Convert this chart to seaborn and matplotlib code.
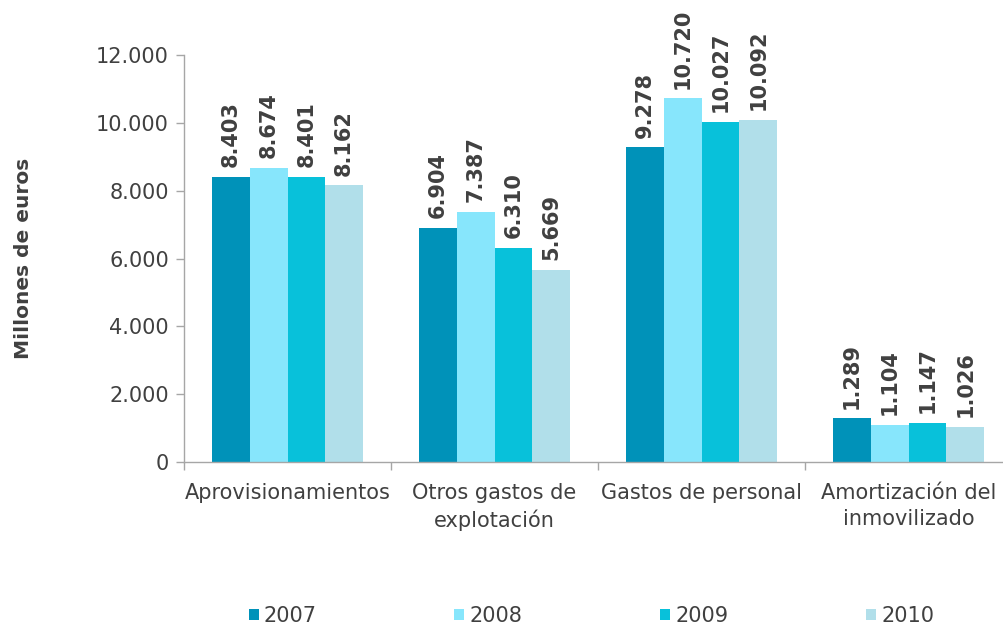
import matplotlib
matplotlib.use("Agg")
import matplotlib.pyplot as plt
import seaborn as sns
import pandas as pd
from matplotlib.ticker import FuncFormatter, FixedLocator

categories = ["Aprovisionamientos", "Otros gastos de\nexplotación",
              "Gastos de personal", "Amortización del\ninmovilizado"]
years = ["2007", "2008", "2009", "2010"]
values_2007 = [8403, 6904, 9278, 1289]
values_2008 = [8674, 7387, 10720, 1104]
values_2009 = [8401, 6310, 10027, 1147]
values_2010 = [8162, 5669, 10092, 1026]
colors = ["#0092B9", "#87E6FC", "#08C1DA", "#B1DFEA"]

series = [values_2007, values_2008, values_2009, values_2010]
rows = []
for year, vals in zip(years, series):
    for cat, v in zip(categories, vals):
        rows.append({"Categoría": cat, "Año": year, "Valor": v})
df = pd.DataFrame(rows)

sns.set_theme(style="white")
plt.rcParams["font.family"] = ["DejaVu Sans"]
text_color = "#404040"
axis_color = "#A6A6A6"

fig = plt.figure(figsize=(10.04, 6.26), dpi=100)
# the plot area runs past the right edge of the canvas
ax = fig.add_axes([0.1833, 0.262, 0.8247, 0.650])

sns.barplot(data=df, x="Categoría", y="Valor", hue="Año", order=categories,
            hue_order=years, palette=colors, width=0.73, saturation=1,
            linewidth=0, edgecolor="none", ax=ax, legend=True)

def thousands(v):
    return f"{int(round(v)):,}".replace(",", ".")

for container in ax.containers:
    ax.bar_label(container, labels=[thousands(b.get_height()) for b in container],
                 rotation=90, padding=7, fontsize=15, fontweight="bold",
                 color=text_color)

ax.set_ylim(0, 12000)
ax.set_xlim(-0.5, 3.5)
ax.set_yticks(range(0, 12001, 2000))
ax.yaxis.set_major_formatter(FuncFormatter(lambda v, p: thousands(v)))
ax.tick_params(axis="y", left=True, length=6, width=1, color=axis_color,
               labelsize=15, labelcolor=text_color, pad=5)
ax.tick_params(axis="x", which="major", bottom=False, labelsize=15,
               labelcolor=text_color, pad=9)
for lbl in ax.get_xticklabels():
    lbl.set_linespacing(1.4)
ax.xaxis.set_minor_locator(FixedLocator([-0.5, 0.5, 1.5, 2.5, 3.5]))
ax.tick_params(axis="x", which="minor", bottom=True, length=6, width=1,
               color=axis_color)

for side in ["top", "right"]:
    ax.spines[side].set_visible(False)
for side in ["left", "bottom"]:
    ax.spines[side].set_color(axis_color)
    ax.spines[side].set_linewidth(1)

ax.set_xlabel("")
ax.set_ylabel("Millones de euros", fontsize=14.5, fontweight="bold",
              color=text_color, labelpad=0)
ax.yaxis.set_label_coords(-0.183, 0.5)

handles, labels = ax.get_legend_handles_labels()
ax.get_legend().remove()
fig.legend(handles, labels, loc="lower center", bbox_to_anchor=(0.589, -0.03),
           ncol=4, frameon=False, fontsize=15, handlelength=0.48,
           handleheight=0.48, handletextpad=0.25, columnspacing=6.6,
           labelcolor=text_color)

fig.savefig("out.png", dpi=100)
